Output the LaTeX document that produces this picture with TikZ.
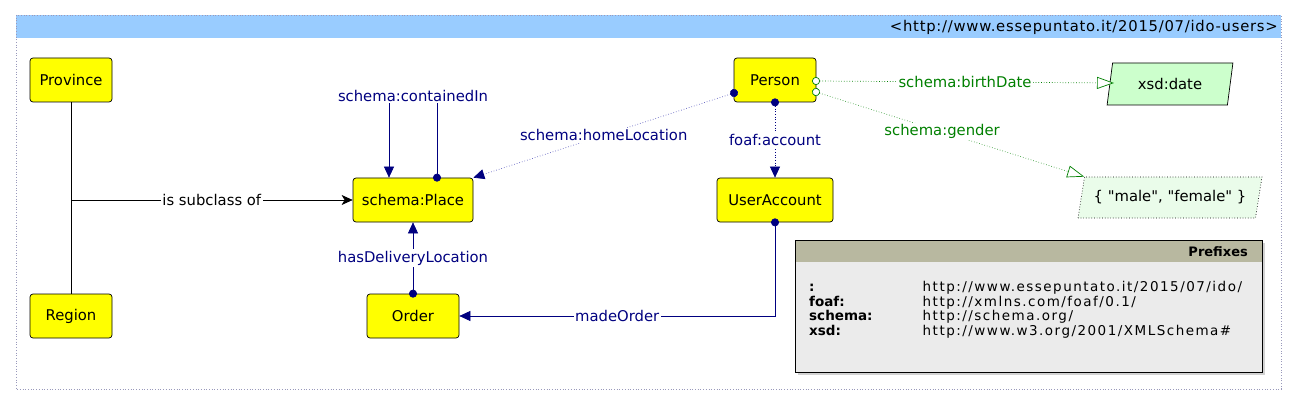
\documentclass[tikz,border=0pt]{standalone}
\usepackage{fontspec}
\setmainfont{DejaVu Sans}[Ligatures=TeXOff]
\newfontfamily\urlfont{DejaVu Sans}[Ligatures=TeXOff,LetterSpace=11]
\newfontfamily\titlefont{DejaVu Sans}[Ligatures=TeXOff,LetterSpace=5]
\usetikzlibrary{arrows.meta,shapes.geometric}
\definecolor{navy}{HTML}{000080}
\definecolor{grn}{HTML}{008000}
\definecolor{titleblue}{HTML}{99CCFF}
\definecolor{framec}{HTML}{9999BB}
\definecolor{hdr}{HTML}{B8B8A0}
\definecolor{bodyg}{HTML}{EBEBEB}
\definecolor{litfill}{HTML}{CCFFCC}
\definecolor{enumfill}{HTML}{EAFCEA}
\definecolor{homec}{HTML}{6060C0}
\definecolor{genc}{HTML}{40A040}
\definecolor{clsyellow}{HTML}{FFFF00}
\begin{document}
\begin{tikzpicture}[x=1pt,y=-1pt,
  font=\fontsize{14.8}{17}\selectfont,
  cls/.style={draw=black, fill=clsyellow, rounded corners=3pt, minimum height=44pt, inner sep=0pt, line width=0.7pt},
  lit/.style={trapezium, trapezium stretches=true, draw=black, fill=litfill, minimum height=42pt, inner sep=0pt, line width=0.7pt},
  lbl/.style={fill=white, inner sep=1.5pt},
  objp/.style={draw=navy, text=navy, line width=0.7pt},
  dotstart/.style={{Circle[length=8pt,color=navy]}-{Triangle[width=10pt,length=11pt,color=navy]}, shorten <=-4pt},
  datap/.style={draw=grn, text=grn, line width=0.7pt, dotted, {Circle[open,length=8pt,fill=white,color=grn]}-{Triangle[open,width=12pt,length=17pt,fill=white,color=grn]}, shorten <=-4pt},
  pfx/.style={anchor=base west, inner sep=0pt, font=\fontsize{13.5}{15}\selectfont\bfseries},
  url/.style={anchor=base west, inner sep=0pt, font=\fontsize{13.5}{15}\urlfont},
]
\useasboundingbox (0,0) rectangle (1297,406);
% frame and title
\fill[titleblue] (16,15.5) rectangle (1281,38);
\draw[framec, dotted, line width=0.7pt] (16,15) rectangle (1281,389);
\node[anchor=east, inner sep=0pt, font=\fontsize{14.8}{17}\titlefont] (title) at (1278,27) {<http://www.essepuntato.it/2015/07/ido-users>};

% classes
\node[cls, minimum width=82pt] (province) at (71,80) {Province};
\node[cls, minimum width=82pt] (region) at (71,316) {Region};
\node[cls, minimum width=120pt] (place) at (413,200) {schema:Place};
\node[cls, minimum width=92pt] (order) at (413,316) {Order};
\node[cls, minimum width=82pt] (person) at (775,80) {Person};
\node[cls, minimum width=116pt] (account) at (775,200) {UserAccount};

% literals
\node[lit, trapezium left angle=75, trapezium right angle=105, minimum width=126pt] (date) at (1170,84) {xsd:date};
\node[lit, fill=enumfill, dotted, trapezium left angle=67, trapezium right angle=113, minimum width=184pt, minimum height=41pt] (gender) at (1170,197.5) {\{ "male", "female" \}};

% subclass
\coordinate (br) at (71,200);
\draw[line width=0.7pt] (province.south) -- (region.north);
\draw[line width=0.7pt, -{Stealth[length=11pt,width=10pt,inset=3pt]}] (br) -- node[lbl] {is subclass of} (place.west);

% object properties
\draw[objp, dotstart] ([xshift=24pt]place.north) -- ++(0,-82) -| node[lbl, pos=0.25] {schema:containedIn} ([xshift=-24pt]place.north);
\coordinate (phl) at (734,93);
\draw[objp, dotstart, draw=homec, dotted] (phl) -- node[lbl, text=navy] {schema:homeLocation} (place.north east);
\draw[objp, dotstart, dotted] (person.south) -- node[lbl] {foaf:account} (account.north);
\draw[objp, dotstart] (order.north) -- node[lbl] {hasDeliveryLocation} (place.south);
\draw[objp, dotstart] (account.south) |- node[lbl, pos=0.75] {madeOrder} (order.east);

% data properties
\coordinate (pbd) at (816,81);
\coordinate (pgd) at (816,92);
\draw[datap] (pbd) -- node[lbl] {schema:birthDate} (1114,83);
\draw[datap, draw=genc] (pgd) -- node[lbl, pos=0.47] {schema:gender} (gender.top left corner);

% prefixes box
\fill[gray!35] (798,243) rectangle (1265,375);
\fill[bodyg] (795,240) rectangle (1262,372);
\fill[hdr] (795,240) rectangle (1262,261.5);
\node[draw=black, line width=0.7pt, minimum width=467pt, minimum height=132pt, inner sep=0pt, anchor=north west] (prefbox) at (795,240) {};
\node[anchor=east, inner sep=0pt, font=\fontsize{13}{15}\selectfont\bfseries] (prefhead) at (1248,251.5) {Prefixes};
\node[pfx] (p1) at (809,291.5) {:};
\node[pfx] (p2) at (809,306) {foaf:};
\node[pfx] (p3) at (809,320.5) {schema:};
\node[pfx] (p4) at (809,335) {xsd:};
\node[url] (u1) at (922.5,291.5) {http://www.essepuntato.it/2015/07/ido/};
\node[url] (u2) at (922.5,306) {http://xmlns.com/foaf/0.1/};
\node[url] (u3) at (922.5,320.5) {http://schema.org/};
\node[url] (u4) at (922.5,335) {http://www.w3.org/2001/XMLSchema\#};
\end{tikzpicture}
\end{document}
